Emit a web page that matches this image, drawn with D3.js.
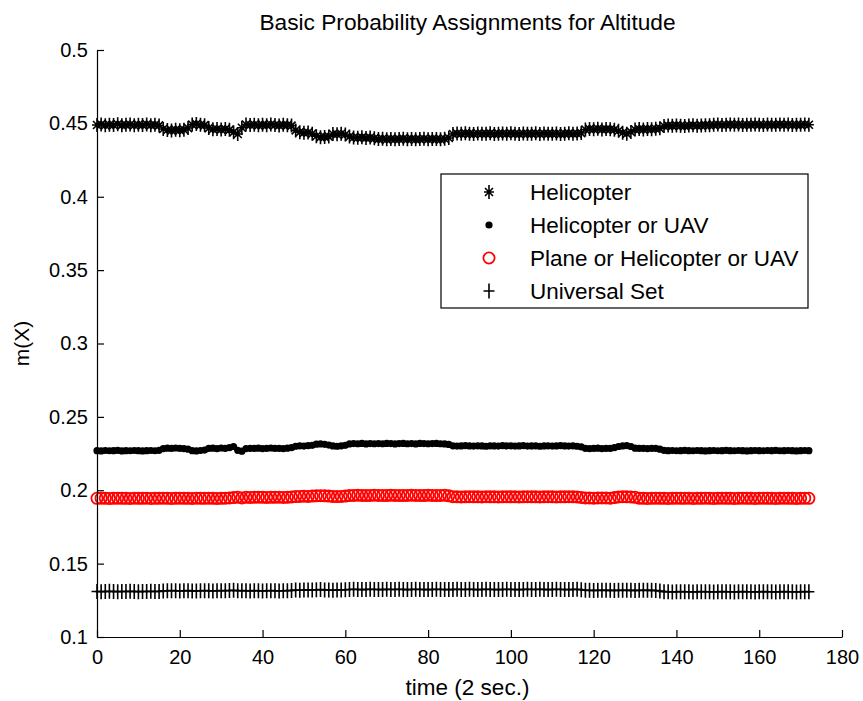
<!DOCTYPE html>
<html>
<head>
<meta charset="utf-8">
<script src="https://cdn.jsdelivr.net/npm/d3@7"></script>
<style>
  body { margin: 0; background: #fff; }
  svg { display: block; font-family: "Liberation Sans", Arial, sans-serif; }
</style>
</head>
<body>
<svg id="chart"></svg>
<script>
// m(X) for each focal element, one value per time step (2 sec.)
const helicopter = [
  0.4489,0.4493,0.4487,0.4491,0.4489,0.4494,0.4488,0.4490,0.4492,0.4487,0.4491,0.4489,0.4493,0.4488,0.4490,0.4486,
  0.4462,0.4455,0.4452,0.4456,0.4454,0.4457,0.4468,
  0.4492,0.4495,0.4490,0.4488,
  0.4468,0.4460,0.4462,0.4458,0.4461,0.4456,
  0.4440,0.4428,0.4470,
  0.4492,0.4489,0.4491,0.4487,0.4490,0.4488,0.4492,0.4489,0.4486,0.4490,0.4488,0.4485,
  0.4452,0.4440,0.4436,0.4438,0.4430,
  0.4412,0.4406,0.4408,0.4410,
  0.4428,0.4426,0.4429,0.4424,
  0.4410,0.4404,0.4402,0.4405,0.4401,0.4403,0.4398,
  0.4393,0.4395,0.4391,0.4394,0.4392,0.4393,0.4396,0.4392,0.4394,0.4391,0.4393,0.4395,0.4392,0.4394,0.4393,0.4391,0.4395,0.4400,
  0.4428,0.4431,0.4429,0.4432,0.4430,0.4428,0.4431,0.4429,0.4430,0.4432,0.4428,0.4430,0.4431,0.4429,0.4432,0.4430,
  0.4428,0.4431,0.4429,0.4430,0.4432,0.4428,0.4431,0.4430,0.4429,0.4431,0.4428,0.4430,0.4432,0.4429,0.4431,0.4434,
  0.4458,0.4462,0.4460,0.4463,0.4459,0.4461,0.4460,0.4457,0.4450,
  0.4436,0.4430,0.4442,
  0.4458,0.4461,0.4459,0.4462,0.4460,0.4463,0.4466,
  0.4482,0.4485,0.4483,0.4486,0.4484,0.4482,0.4485,0.4487,0.4484,0.4486,0.4488,0.4487,
  0.4490,0.4492,0.4489,0.4491,0.4493,0.4490,0.4492,0.4489,0.4491,0.4490,0.4492,0.4491,
  0.4489,0.4492,0.4490,0.4491,0.4493,0.4490,0.4492,0.4489,0.4491,0.4490,0.4492,0.4491
];

const heliOrUav = [
  0.2270,0.2268,0.2271,0.2269,0.2270,0.2272,0.2268,0.2270,0.2269,0.2271,0.2270,0.2268,0.2270,0.2271,0.2269,0.2272,
  0.2284,0.2287,0.2285,0.2288,0.2286,0.2284,0.2280,
  0.2270,0.2268,0.2271,0.2274,
  0.2285,0.2287,0.2284,0.2288,0.2286,0.2290,
  0.2298,0.2272,0.2266,
  0.2284,0.2286,0.2285,0.2287,0.2284,0.2286,0.2288,0.2285,0.2286,0.2284,0.2287,0.2290,
  0.2300,0.2303,0.2301,0.2304,0.2306,
  0.2314,0.2316,0.2313,0.2308,
  0.2302,0.2300,0.2303,0.2306,
  0.2316,0.2318,0.2317,0.2319,0.2316,0.2318,0.2317,
  0.2318,0.2317,0.2319,0.2318,0.2316,0.2318,0.2319,0.2317,0.2318,0.2316,0.2319,0.2318,0.2317,0.2318,0.2319,0.2317,0.2316,0.2312,
  0.2303,0.2301,0.2302,0.2304,0.2302,0.2301,0.2303,0.2302,0.2300,0.2303,0.2302,0.2301,0.2304,0.2302,0.2303,0.2301,
  0.2302,0.2304,0.2301,0.2302,0.2303,0.2300,0.2302,0.2303,0.2301,0.2302,0.2304,0.2302,0.2301,0.2303,0.2300,0.2296,
  0.2286,0.2284,0.2285,0.2287,0.2284,0.2286,0.2285,0.2290,0.2298,
  0.2302,0.2304,0.2298,
  0.2287,0.2285,0.2286,0.2284,0.2286,0.2285,0.2280,
  0.2272,0.2270,0.2271,0.2269,0.2270,0.2272,0.2270,0.2269,0.2271,0.2270,0.2268,0.2270,
  0.2271,0.2269,0.2270,0.2272,0.2270,0.2269,0.2271,0.2270,0.2268,0.2270,0.2271,0.2270,
  0.2269,0.2271,0.2270,0.2272,0.2269,0.2270,0.2271,0.2270,0.2268,0.2270,0.2271,0.2270
];

const planeHeliUav = [
  0.1945,0.1946,0.1945,0.1944,0.1945,0.1946,0.1945,0.1945,0.1944,0.1946,0.1945,0.1945,0.1946,0.1944,0.1945,0.1945,0.1946,
  0.1945,0.1944,0.1945,0.1946,0.1945,0.1945,0.1944,0.1946,0.1945,0.1945,0.1946,0.1945,0.1944,0.1945,0.1946,0.1947,
  0.1950,0.1953,0.1948,
  0.1952,0.1951,0.1952,0.1953,0.1952,0.1951,0.1952,0.1952,0.1953,0.1951,0.1952,0.1954,
  0.1957,0.1958,0.1959,0.1958,0.1960,
  0.1962,0.1963,0.1962,0.1960,
  0.1958,0.1957,0.1958,0.1960,
  0.1964,0.1965,0.1966,0.1965,0.1964,0.1965,0.1966,0.1965,0.1965,0.1964,0.1966,0.1965,0.1965,
  0.1964,0.1965,0.1966,0.1965,0.1965,0.1964,0.1966,0.1965,0.1964,0.1965,0.1966,0.1962,
  0.1956,0.1955,0.1954,0.1955,0.1956,0.1955,0.1955,0.1954,0.1956,0.1955,0.1955,0.1954,0.1955,0.1956,0.1955,0.1955,
  0.1954,0.1955,0.1956,0.1955,0.1955,0.1954,0.1955,0.1956,0.1955,0.1954,0.1955,0.1955,0.1956,0.1955,0.1954,0.1951,
  0.1948,0.1947,0.1946,0.1947,0.1948,0.1947,0.1946,0.1950,
  0.1954,0.1956,0.1955,0.1954,0.1952,
  0.1946,0.1945,0.1944,0.1945,0.1946,0.1945,0.1945,0.1944,0.1945,0.1946,0.1945,0.1945,0.1946,0.1944,
  0.1945,0.1945,0.1946,0.1945,0.1944,0.1945,0.1946,0.1945,0.1945,0.1944,0.1945,0.1946,0.1945,0.1945,
  0.1944,0.1945,0.1946,0.1945,0.1945,0.1944,0.1945,0.1946,0.1945,0.1945,0.1944,0.1945,0.1946,0.1945
];

const universalSet = [
  0.1310,0.1309,0.1310,0.1311,0.1310,0.1309,0.1310,0.1310,0.1311,0.1310,0.1309,0.1310,0.1310,0.1311,0.1310,0.1310,
  0.1314,0.1315,0.1316,0.1315,0.1314,0.1315,0.1316,0.1314,0.1313,0.1315,0.1316,0.1315,0.1314,0.1315,0.1316,0.1315,
  0.1317,0.1318,0.1315,0.1316,0.1315,0.1314,0.1316,0.1315,0.1314,0.1315,0.1316,0.1315,0.1314,0.1315,0.1316,0.1317,
  0.1320,0.1319,0.1320,0.1321,0.1320,0.1322,0.1323,0.1321,0.1320,0.1319,0.1320,0.1321,0.1322,
  0.1324,0.1325,0.1324,0.1323,0.1324,0.1325,0.1324,0.1324,0.1323,0.1325,0.1324,0.1324,0.1325,0.1324,0.1323,0.1324,
  0.1325,0.1324,0.1324,0.1323,0.1324,0.1325,0.1324,0.1324,0.1323,0.1324,0.1325,0.1324,0.1324,0.1325,0.1324,0.1323,
  0.1324,0.1325,0.1324,0.1324,0.1323,0.1324,0.1325,0.1324,0.1324,0.1323,0.1324,0.1325,0.1324,0.1324,0.1325,0.1324,
  0.1323,0.1324,0.1325,0.1324,0.1324,0.1323,0.1324,0.1325,0.1322,
  0.1319,0.1318,0.1317,0.1318,0.1319,0.1318,0.1318,0.1317,0.1318,0.1319,0.1318,0.1318,0.1317,0.1318,0.1319,0.1318,0.1318,0.1317,0.1313,
  0.1309,0.1308,0.1307,0.1308,0.1309,0.1308,0.1308,0.1307,0.1308,0.1309,0.1308,0.1308,
  0.1307,0.1308,0.1309,0.1308,0.1308,0.1307,0.1308,0.1309,0.1308,0.1308,0.1307,0.1308,
  0.1309,0.1308,0.1308,0.1307,0.1308,0.1309,0.1308,0.1308,0.1307,0.1308,0.1309,0.1308
];

const seriesNames = ["Helicopter", "Helicopter or UAV", "Plane or Helicopter or UAV", "Universal Set"];
const seriesValues = [helicopter, heliOrUav, planeHeliUav, universalSet];
const seriesMarkers = ["star", "dot", "circle", "plus"];
const seriesColors = ["#000000", "#000000", "#ff0000", "#000000"];

const xTicks = [0, 20, 40, 60, 80, 100, 120, 140, 160, 180];
const yTicks = [0.1, 0.15, 0.2, 0.25, 0.3, 0.35, 0.4, 0.45, 0.5];
const yTickLabels = ["0.1", "0.15", "0.2", "0.25", "0.3", "0.35", "0.4", "0.45", "0.5"];

const width = 863, height = 701;
const margin = { top: 50, right: 21, bottom: 64, left: 97 };

const svg = d3.select("#chart")
  .attr("width", width)
  .attr("height", height);

svg.append("rect").attr("width", width).attr("height", height).attr("fill", "#fff");

const x = d3.scaleLinear()
  .domain([0, 180])
  .range([margin.left, width - margin.right]);

const y = d3.scaleLinear()
  .domain([0.1, 0.5])
  .range([height - margin.bottom, margin.top]);

// marker shapes (matlab style)
const markerPath = {
  star: "M0,-7V7M-5,0H5M-4,-4L4,4M-4,4L4,-4",
  plus: "M0,-7.5V7.5M-5.5,0H5.5"
};

function drawMarker(g, type, color) {
  if (type === "circle") {
    g.append("circle").attr("r", 5.6).attr("fill", "none")
      .attr("stroke", color).attr("stroke-width", 1.8);
  } else if (type === "dot") {
    g.append("circle").attr("r", 3.6).attr("fill", color);
  } else {
    g.append("path").attr("d", markerPath[type]).attr("fill", "none")
      .attr("stroke", color).attr("stroke-width", 1.6);
  }
}

// data markers
seriesValues.forEach((vals, si) => {
  const layer = svg.append("g").attr("class", "series-" + si);
  layer.selectAll("g")
    .data(vals)
    .enter()
    .append("g")
    .attr("transform", (d, i) => `translate(${x(i)},${y(d)})`)
    .each(function () {
      drawMarker(d3.select(this), seriesMarkers[si], seriesColors[si]);
    });
});

// axes, ticks point inward
const xAxis = d3.axisBottom(x)
  .tickValues(xTicks)
  .tickSizeInner(-7)
  .tickSizeOuter(0)
  .tickPadding(13);

const yAxis = d3.axisLeft(y)
  .tickValues(yTicks)
  .tickFormat((d, i) => yTickLabels[i])
  .tickSizeInner(-7)
  .tickSizeOuter(0)
  .tickPadding(9);

const gx = svg.append("g")
  .attr("transform", `translate(0,${height - margin.bottom})`)
  .call(xAxis);

const gy = svg.append("g")
  .attr("transform", `translate(${margin.left},0)`)
  .call(yAxis);

[gx, gy].forEach(g => {
  g.selectAll("path, line").attr("stroke", "#000").attr("stroke-width", 1.2);
  g.selectAll("text")
    .attr("fill", "#000")
    .style("font-size", "20px")
    .style("font-family", "'Liberation Sans', Arial, sans-serif");
});

// title and labels
svg.append("text")
  .attr("x", (x.range()[0] + x.range()[1]) / 2 - 2)
  .attr("y", 30)
  .attr("text-anchor", "middle")
  .style("font-size", "22.7px")
  .text("Basic Probability Assignments for Altitude");

svg.append("text")
  .attr("x", (x.range()[0] + x.range()[1]) / 2 - 2)
  .attr("y", 695)
  .attr("text-anchor", "middle")
  .style("font-size", "22.5px")
  .text("time (2 sec.)");

svg.append("text")
  .attr("transform", `translate(29,${(y.range()[0] + y.range()[1]) / 2}) rotate(-90)`)
  .attr("text-anchor", "middle")
  .style("font-size", "21px")
  .text("m(X)");

// legend
const legend = svg.append("g").attr("transform", "translate(441,174)");
legend.append("rect")
  .attr("width", 367)
  .attr("height", 134)
  .attr("fill", "#fff")
  .attr("stroke", "#000")
  .attr("stroke-width", 1.2);

const items = legend.selectAll("g.item")
  .data(seriesNames)
  .enter()
  .append("g")
  .attr("class", "item")
  .attr("transform", (d, i) => `translate(48,${18 + i * 33})`);

items.each(function (d, i) {
  drawMarker(d3.select(this), seriesMarkers[i], seriesColors[i]);
});

items.append("text")
  .attr("x", 41)
  .attr("dy", "0.36em")
  .style("font-size", "22.5px")
  .text(d => d);
</script>
</body>
</html>
